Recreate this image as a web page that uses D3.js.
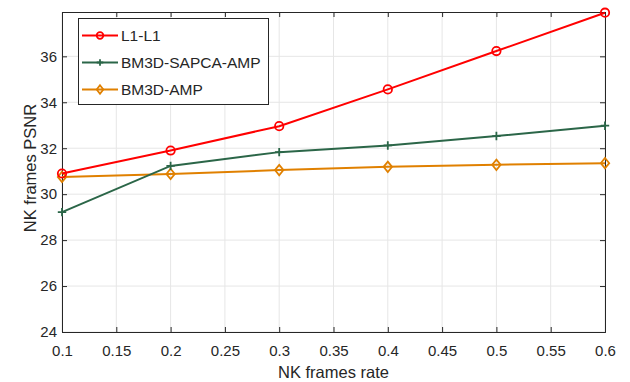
<!DOCTYPE html>
<html>
<head>
<meta charset="utf-8">
<script src="https://cdn.jsdelivr.net/npm/d3@7"></script>
<style>
  body { margin: 0; background: #fff; }
  text { font-family: "Liberation Sans", Arial, sans-serif; fill: #262626; }
</style>
</head>
<body>
<svg width="630" height="382"></svg>
<script>
var rates = [0.1, 0.2, 0.3, 0.4, 0.5, 0.6];
var l1l1 = [30.90, 31.90, 32.96, 34.56, 36.23, 37.90];
var sapca = [29.22, 31.23, 31.83, 32.12, 32.53, 32.98];
var bm3d = [30.75, 30.88, 31.05, 31.19, 31.28, 31.35];
var names = ["L1-L1", "BM3D-SAPCA-AMP", "BM3D-AMP"];
var colors = ["#ff0000", "#2b6648", "#e08000"];
var markers = ["circle", "plus", "diamond"];
var xTicks = [0.1, 0.15, 0.2, 0.25, 0.3, 0.35, 0.4, 0.45, 0.5, 0.55, 0.6];
var yTicks = [24, 26, 28, 30, 32, 34, 36];

var svg = d3.select("svg");
var plotL = 62, plotR = 605, plotT = 12, plotB = 332;

var x = d3.scaleLinear().domain([0.1, 0.6]).range([plotL, plotR]);
var y = d3.scaleLinear().domain([24, 37.93]).range([plotB, plotT]);

// grid
svg.append("g").selectAll("line").data(xTicks).join("line")
    .attr("x1", d => x(d)).attr("x2", d => x(d))
    .attr("y1", plotT).attr("y2", plotB)
    .attr("stroke", "#e6e6e6").attr("stroke-width", 1);
svg.append("g").selectAll("line").data(yTicks).join("line")
    .attr("x1", plotL).attr("x2", plotR)
    .attr("y1", d => y(d)).attr("y2", d => y(d))
    .attr("stroke", "#e6e6e6").attr("stroke-width", 1);

// axes (inward ticks, box)
var fmt = d => String(d);
svg.append("g").attr("transform", "translate(0," + plotB + ")")
    .call(d3.axisBottom(x).tickValues(xTicks).tickSize(-5).tickPadding(13).tickFormat(fmt));
svg.append("g").attr("transform", "translate(0," + plotT + ")")
    .call(d3.axisTop(x).tickValues(xTicks).tickSize(-5).tickFormat(""));
svg.append("g").attr("transform", "translate(" + plotL + ",0)")
    .call(d3.axisLeft(y).tickValues(yTicks).tickSize(-5).tickPadding(5).tickFormat(fmt));
svg.append("g").attr("transform", "translate(" + plotR + ",0)")
    .call(d3.axisRight(y).tickValues(yTicks).tickSize(-5).tickFormat(""));

svg.selectAll(".domain").attr("stroke", "#262626").attr("stroke-width", 1);
svg.selectAll(".tick line").attr("stroke", "#262626");
svg.selectAll(".tick text").attr("font-size", 15).attr("fill", "#262626")
    .style("font-family", "'Liberation Sans', Arial, sans-serif");

// axis labels
svg.append("text").attr("x", (plotL + plotR) / 2).attr("y", 378)
    .attr("text-anchor", "middle").attr("font-size", 16.5).text("NK frames rate");
svg.append("text").attr("transform", "translate(36,168) rotate(-90)")
    .attr("text-anchor", "middle").attr("font-size", 16.5).text("NK frames PSNR");

function drawMarker(g, type, cx, cy, color, sz) {
    if (type == "circle") {
        g.append("circle").attr("cx", cx).attr("cy", cy).attr("r", sz)
            .attr("fill", "none").attr("stroke", color).attr("stroke-width", 1.8);
    } else if (type == "plus") {
        g.append("path").attr("d", "M" + (cx - sz) + "," + cy + "h" + 2 * sz + "M" + cx + "," + (cy - sz) + "v" + 2 * sz)
            .attr("stroke", color).attr("stroke-width", 1.8);
    } else {
        g.append("path").attr("d", "M" + cx + "," + (cy - sz - 1) + "L" + (cx + sz) + "," + cy +
                "L" + cx + "," + (cy + sz + 1) + "L" + (cx - sz) + "," + cy + "Z")
            .attr("fill", "none").attr("stroke", color).attr("stroke-width", 1.8);
    }
}

var series = [l1l1, sapca, bm3d];
var line = d3.line().x((d, i) => x(rates[i])).y(d => y(d));
// draw bottom series first so red sits on top
for (var s = series.length - 1; s >= 0; s--) {
    var g = svg.append("g");
    g.append("path").attr("d", line(series[s]))
        .attr("fill", "none").attr("stroke", colors[s]).attr("stroke-width", 2);
    for (var i = 0; i < rates.length; i++)
        drawMarker(g, markers[s], x(rates[i]), y(series[s][i]), colors[s], 4.2);
}

// legend
var lg = svg.append("g");
lg.append("rect").attr("x", 78.5).attr("y", 18.5).attr("width", 190).attr("height", 86)
    .attr("fill", "#fff").attr("stroke", "#262626").attr("stroke-width", 1);
for (var k = 0; k < names.length; k++) {
    var ly = 35.5 + k * 27;
    lg.append("line").attr("x1", 82).attr("x2", 118).attr("y1", ly).attr("y2", ly)
        .attr("stroke", colors[k]).attr("stroke-width", 2);
    drawMarker(lg, markers[k], 100, ly, colors[k], 3.3);
    lg.append("text").attr("x", 121).attr("y", ly + 5.5).attr("font-size", 15.5).text(names[k]);
}
</script>
</body>
</html>
